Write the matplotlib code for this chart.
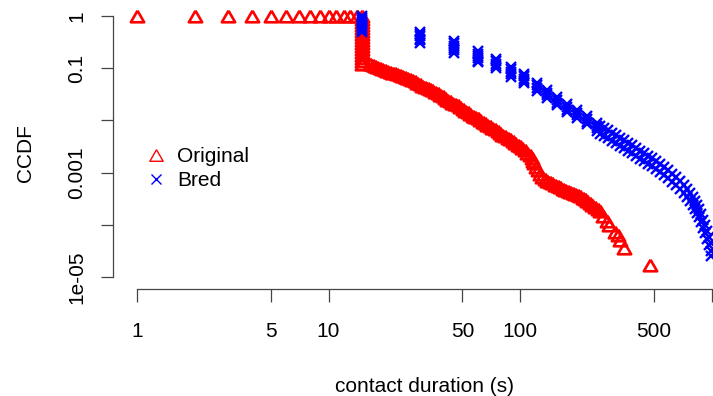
import matplotlib
matplotlib.use('Agg')
import matplotlib.pyplot as plt

plt.rcParams['font.family'] = ['Liberation Sans', 'DejaVu Sans']

# CCDF of contact durations
orig_x = [1, 2, 3, 4, 5, 6, 7, 8, 9, 10, 11, 12, 13, 14,
          15, 15, 15, 15, 15, 15, 15, 15, 15, 15, 15, 15, 15, 15, 15, 15, 15,
          16.5, 17.0, 17.5, 18.0, 18.6, 19.1, 19.7, 20.3, 20.9, 21.5,
          22.2, 22.9, 23.6, 24.3, 25.1, 25.8, 26.6, 27.4, 28.3, 29.1,
          30.0, 30.9, 31.9, 32.9, 33.9, 34.9, 36.0, 37.1, 38.2, 39.4,
          40.6, 41.8, 43.1, 44.4, 45.8, 47.2, 48.6, 50.1, 51.6, 53.2,
          54.8, 56.5, 58.2, 60.0, 61.8, 63.7, 65.6, 67.6, 69.7, 71.8,
          74.0, 76.3, 78.6, 81.0, 83.5, 86.1, 88.7, 91.4, 94.2, 97.1,
          100, 103, 106, 109, 113, 115, 117, 119, 121, 124,
          127, 131, 135, 139, 143, 147, 152, 157, 162, 167,
          172, 177, 182, 188, 194, 200, 206, 212, 218, 225,
          232, 239, 247, 254, 262, 271, 285,
          290, 313, 325, 333, 349, 477]
orig_y = [1, 1, 1, 1, 1, 1, 1, 1, 1, 1, 1, 1, 1, 1,
          1, 0.876, 0.767, 0.672, 0.589, 0.516, 0.452, 0.396, 0.347, 0.304,
          0.266, 0.233, 0.204, 0.179, 0.157, 0.137, 0.120,
          0.120, 0.115, 0.110, 0.105, 0.101, 0.096, 0.092, 0.088, 0.0846, 0.0827,
          0.0809, 0.0774, 0.0741, 0.0709, 0.0678, 0.0649, 0.0621, 0.0594, 0.0569, 0.0532,
          0.0498, 0.0466, 0.0436, 0.0418, 0.0400, 0.0374, 0.0350, 0.0328, 0.0307, 0.0287,
          0.0269, 0.0251, 0.0235, 0.0220, 0.0206, 0.0193, 0.0181, 0.0165, 0.0151, 0.0142,
          0.0133, 0.0124, 0.0116, 0.0109, 0.0102, 0.0095, 0.0089, 0.0083, 0.0078, 0.0073,
          0.0068, 0.0062, 0.0057, 0.0053, 0.0050, 0.0047, 0.0044, 0.0040, 0.0037, 0.0034,
          0.0032, 0.0029, 0.0027, 0.0024, 0.0022, 0.0019, 0.0017, 0.0015, 0.0013, 0.0011,
          0.00094, 0.00084, 0.00075, 0.0007, 0.00066, 0.00062, 0.00058, 0.00055, 0.00053, 0.00049,
          0.00046, 0.00044, 0.00042, 0.00040, 0.00039, 0.00037, 0.00036, 0.00033, 0.00031, 0.00028,
          0.00026, 0.00024, 0.00022, 0.0002, 0.00018, 0.00015, 0.00012,
          0.0001, 0.000073, 0.000064, 0.000051, 0.000036, 0.000017]

bred_x = [15, 15, 15, 15, 15, 15, 15, 15, 15,
          30, 30, 30, 30, 30, 30,
          45, 45, 45, 45, 45, 45,
          60, 60, 60, 60, 60, 60,
          75, 75, 75, 75, 75,
          90, 90, 90, 90, 90,
          105, 105, 105, 105, 105,
          123, 123, 123, 123, 138, 138, 138, 138,
          156, 156, 156, 156, 176, 176, 176, 176,
          198, 198, 198, 198, 224, 224, 224, 224,
          253, 253, 253, 253,
          262, 262, 275, 275, 288, 288, 302, 302, 317, 317, 333, 333,
          349, 349, 367, 367, 385, 385, 404, 404, 424, 424, 445, 445,
          467, 467, 489, 489, 513, 513, 539, 539, 565, 565, 593, 593,
          622, 622, 653, 653, 685, 685, 718, 718, 745, 745, 773, 773,
          800, 800, 820, 820, 840, 840, 861, 861, 882, 882, 903, 903,
          925, 925, 948, 948, 971, 971, 994, 994, 994]
bred_y = [1, 0.92, 0.84, 0.77, 0.70, 0.64, 0.58, 0.53, 0.49,
          0.49, 0.45, 0.41, 0.37, 0.34, 0.30,
          0.33, 0.30, 0.27, 0.245, 0.22, 0.195,
          0.21, 0.19, 0.17, 0.155, 0.14, 0.13,
          0.15, 0.135, 0.12, 0.11, 0.10,
          0.105, 0.095, 0.085, 0.076, 0.068,
          0.077, 0.070, 0.063, 0.057, 0.052,
          0.052, 0.047, 0.042, 0.0367, 0.038, 0.034, 0.030, 0.027,
          0.028, 0.025, 0.022, 0.0197, 0.0206, 0.018, 0.016, 0.0145,
          0.0158, 0.014, 0.0125, 0.0111, 0.0121, 0.0107, 0.0095, 0.0085,
          0.0089, 0.0079, 0.0071, 0.0063,
          0.0078, 0.0055, 0.0071, 0.0050, 0.0065, 0.0046, 0.0057, 0.0040,
          0.0052, 0.0037, 0.0046, 0.0032, 0.0042, 0.0030, 0.0037, 0.0026,
          0.0034, 0.0024, 0.0030, 0.0021, 0.0026, 0.0018, 0.0024, 0.00167,
          0.0021, 0.00146, 0.0019, 0.00134, 0.00167, 0.00117, 0.00146, 0.00103,
          0.00128, 0.0009, 0.00112, 0.00079, 0.00094, 0.00066, 0.00082, 0.00058,
          0.00069, 0.00049, 0.00058, 0.00041, 0.00049, 0.00034, 0.00041, 0.00029,
          0.00034, 0.00024, 0.00029, 0.0002, 0.00024, 0.00017, 0.0002, 0.00014,
          0.00016, 0.000113, 0.000124, 0.000087, 0.0001, 0.00007,
          0.000076, 0.000053, 0.000058, 0.000041, 0.000045, 0.000031, 0.000025]

x_ticks = [1, 5, 10, 50, 100, 500, 1000]
x_labels = ['1', '5', '10', '50', '100', '500', '']
y_ticks = [1, 0.1, 0.01, 0.001, 1e-4, 1e-5]
y_labels = ['1', '0.1', '', '0.001', '', '1e-05']

W, H = 713, 396
fig = plt.figure(figsize=(W / 100, H / 100), dpi=100)
ax = fig.add_axes([113 / W, (H - 289) / H, 600 / W, 289 / H])

# R-like open triangle (equilateral, centred on its bounding box)
tri = [(0, 0.433), (-0.5, -0.433), (0.5, -0.433), (0, 0.433)]

ax.plot(orig_x, orig_y, linestyle='none', marker=tri, ms=9.6,
        mfc='none', mec='#ff0000', mew=1.9, label='Original')
ax.plot(bred_x, bred_y, linestyle='none', marker='x', ms=7.5,
        mec='#0000ff', mew=1.7, label='Bred')

ax.set_xscale('log')
ax.set_yscale('log')
ax.set_xlim(0.749, 1018)
ax.set_ylim(5.89e-6, 2.025)

for s in ['top', 'right']:
    ax.spines[s].set_visible(False)
ax.spines['left'].set_bounds(1e-5, 1)
ax.spines['bottom'].set_bounds(1, 1000)
for s in ['left', 'bottom']:
    ax.spines[s].set_color('#444444')
    ax.spines[s].set_linewidth(0.9)

ax.minorticks_off()
ax.set_xticks(x_ticks)
ax.set_xticklabels(x_labels)
ax.set_yticks(y_ticks)
ax.set_yticklabels(y_labels, rotation=90, va='center')
ax.tick_params(axis='both', length=9, width=0.9, color='#444444',
               labelsize=15, labelcolor='black')
ax.tick_params(axis='x', pad=14.5)
ax.tick_params(axis='y', pad=10)

fig.text(424.5 / W, (H - 392) / H, 'contact duration (s)', ha='center',
         va='baseline', fontsize=15)
fig.text(26 / W, (H - 153) / H, 'CCDF', ha='center', va='center',
         rotation=90, fontsize=15)

leg = ax.legend(loc='center left', bbox_to_anchor=(145.6 / W, (H - 168.5) / H),
                bbox_transform=fig.transFigure, frameon=False, fontsize=15,
                borderpad=0, borderaxespad=0, handlelength=1.0, handletextpad=0.5,
                labelspacing=0.25, numpoints=1)
for h in leg.legend_handles:
    h.set_markeredgewidth(1.0)

fig.savefig('out.png', dpi=100)
